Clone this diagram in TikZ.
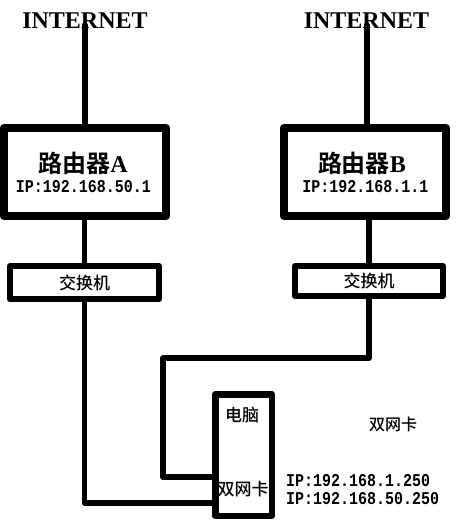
\documentclass[tikz,border=0pt]{standalone}
\usepackage{fontspec}
\setmainfont{Liberation Serif}
\newfontfamily\cjk{Noto Sans CJK SC Medium}
\newfontfamily\cjkbold{Noto Sans CJK SC Bold}
\newfontfamily\ipmono{Liberation Mono}
\newcommand\iptext[1]{\scalebox{1}[1.2]{\ipmono\bfseries #1}}

\begin{document}
\begin{tikzpicture}[line cap=round,line join=round,x=1pt,y=-1pt,
  router/.style={draw,line width=8pt,minimum width=162pt,minimum height=88pt,inner sep=0pt},
  switchbox/.style={draw,line width=6pt,inner sep=0pt,font=\cjk\fontsize{17}{20}\selectfont},
  txt/.style={inner sep=0pt},
  inet/.style={txt,font=\bfseries\fontsize{24}{28}\selectfont},
  title/.style={txt,font=\fontsize{24}{28}\selectfont},
  iplabel/.style={txt,font=\fontsize{15}{18}\selectfont},
  cjklabel/.style={txt,font=\cjk\fontsize{17}{20}\selectfont},
  wire/.style={line width=5.5pt},
  uplink/.style={line width=6pt}]
\useasboundingbox (0,0) rectangle (474,530);

% routers
\node[router] (ra) at (85,172) {};
\node[router] (rb) at (365,172) {};
\node[title] (ta) at (83,163) {{\cjkbold 路由器}\textbf{A}};
\node[title] (tb) at (362,163) {{\cjkbold 路由器}\textbf{B}};
\node[iplabel] (ipa) at (83.5,186.5) {\iptext{IP:192.168.50.1}};
\node[iplabel] (ipb) at (365.5,186.5) {\iptext{IP:192.168.1.1}};

% internet
\node[inet] (inetA) at (85,21) {INTERNET};
\node[inet] (inetB) at (366.5,21) {INTERNET};
\draw[uplink] ([yshift=4pt]inetA.south) -- (inetA.south |- ra.north);
\draw[uplink] ([yshift=4pt]inetB.south) -- (inetB.south |- rb.north);

% switches
\node[switchbox,minimum width=149pt,minimum height=33pt] (swA) at (84.5,282.5) {交换机};
\node[switchbox,minimum width=148pt,minimum height=30pt] (swB) at (369,281) {交换机};
\draw[wire] (swA.north |- ra.south) -- (swA.north);
\draw[wire] (swB.north |- rb.south) -- (swB.north);

% pc with two cards
\node[draw,line width=6.5pt,minimum width=56.5pt,minimum height=121.5pt] (pc) at (243.5,455) {};
\node[cjklabel] (pcname) at (242,415) {电脑};
\node[cjklabel] (nic) at (243,489) {双网卡};
\coordinate (bend) at (163,358);
\draw[wire] (swA.south) |- ([yshift=-48pt]pc.west);
\draw[wire] (swB.south) |- (bend) |- ([yshift=-22pt]pc.west);

\node[cjklabel,font=\cjk\fontsize{16}{20}\selectfont] (niclabel) at (393,424) {双网卡};
\node[iplabel,anchor=west] (ippc1) at (286,481) {\iptext{IP:192.168.1.250}};
\node[iplabel,anchor=west] (ippc2) at (286,499) {\iptext{IP:192.168.50.250}};
\end{tikzpicture}
\end{document}
